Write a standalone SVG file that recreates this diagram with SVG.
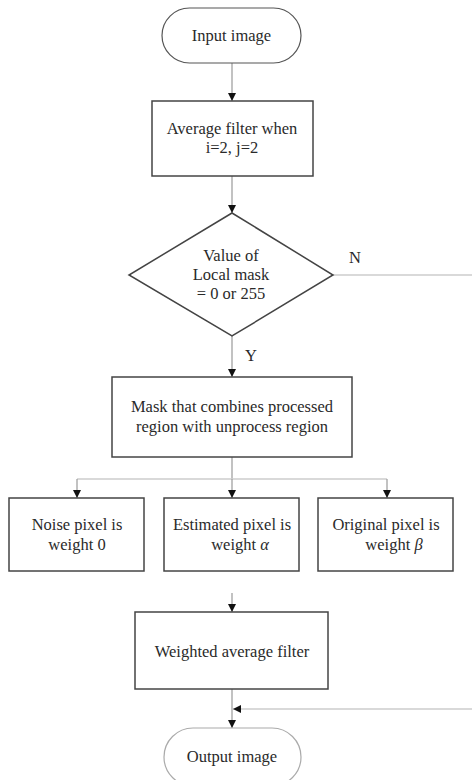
<svg xmlns="http://www.w3.org/2000/svg" width="472" height="780" viewBox="0 0 472 780">
<style>
.box{fill:#fff;stroke:#444;stroke-width:1.5}
.term{fill:#fff;stroke:#555;stroke-width:1.2}
.term2{fill:#fff;stroke:#aaa;stroke-width:1.2}
.conn{fill:none;stroke:#999;stroke-width:1.2}
.connl{fill:none;stroke:#ccc;stroke-width:1.5}
text{font-family:"Liberation Serif","Times New Roman",serif;font-size:16.5px;fill:#2a2a2a;text-anchor:middle}
</style>
<defs>
<marker id="ah" viewBox="0 0 10 10" refX="10" refY="5" markerWidth="8" markerHeight="8" markerUnits="userSpaceOnUse" orient="auto">
<path d="M0,0 L10,5 L0,10 Z" fill="#111"/>
</marker>
</defs>
<g id="connectors">
<line class="conn" x1="232" y1="63" x2="232" y2="101" marker-end="url(#ah)"/>
<line class="conn" x1="232" y1="176" x2="232" y2="213" marker-end="url(#ah)"/>
<line class="connl" x1="333" y1="275" x2="472" y2="275"/>
<line class="conn" x1="232" y1="336" x2="232" y2="377" marker-end="url(#ah)"/>
<line class="conn" x1="232" y1="457" x2="232" y2="479"/>
<line class="connl" x1="77" y1="479" x2="387" y2="479"/>
<line class="conn" x1="77" y1="479" x2="77" y2="498" marker-end="url(#ah)"/>
<line class="conn" x1="232" y1="479" x2="232" y2="498" marker-end="url(#ah)"/>
<line class="conn" x1="387" y1="479" x2="387" y2="498" marker-end="url(#ah)"/>
<line class="conn" x1="232" y1="593" x2="232" y2="612" marker-end="url(#ah)"/>
<line class="conn" x1="232" y1="689" x2="232" y2="728" marker-end="url(#ah)"/>
<line class="connl" x1="472" y1="709" x2="233" y2="709" marker-end="url(#ah)"/>
<text x="355" y="263">N</text>
<text x="251" y="361">Y</text>
</g>
<g id="input">
<rect class="term" x="162" y="8" width="139" height="55" rx="27.5"/>
<text x="231.5" y="41">Input image</text>
</g>
<g id="avg">
<rect class="box" x="152" y="101" width="161" height="75"/>
<text x="232" y="134">Average filter when</text>
<text x="232" y="153">i=2, j=2</text>
</g>
<g id="decision">
<polygon class="box" points="232,213 333,275 232,336 129,275"/>
<text x="231" y="261">Value of</text>
<text x="231" y="280">Local mask</text>
<text x="231" y="299">= 0 or 255</text>
</g>
<g id="mask">
<rect class="box" x="112" y="377" width="240" height="80"/>
<text x="232" y="412">Mask that combines processed</text>
<text x="232" y="432">region with unprocess region</text>
</g>
<g id="noise">
<rect class="box" x="9" y="498" width="135" height="73"/>
<text x="77" y="530">Noise pixel is</text>
<text x="77" y="550">weight 0</text>
</g>
<g id="estimated">
<rect class="box" x="164" y="498" width="135" height="73"/>
<text x="232" y="530">Estimated pixel is</text>
<text x="240" y="550">weight <tspan font-style="italic">α</tspan></text>
</g>
<g id="original">
<rect class="box" x="318" y="498" width="135" height="73"/>
<text x="386" y="530">Original pixel is</text>
<text x="394" y="550">weight <tspan font-style="italic">β</tspan></text>
</g>
<g id="weighted">
<rect class="box" x="135" y="612" width="193" height="77"/>
<text x="232" y="657">Weighted average filter</text>
</g>
<g id="output">
<rect class="term2" x="164" y="728" width="137" height="58" rx="29"/>
<text x="232" y="762">Output image</text>
</g>
</svg>
